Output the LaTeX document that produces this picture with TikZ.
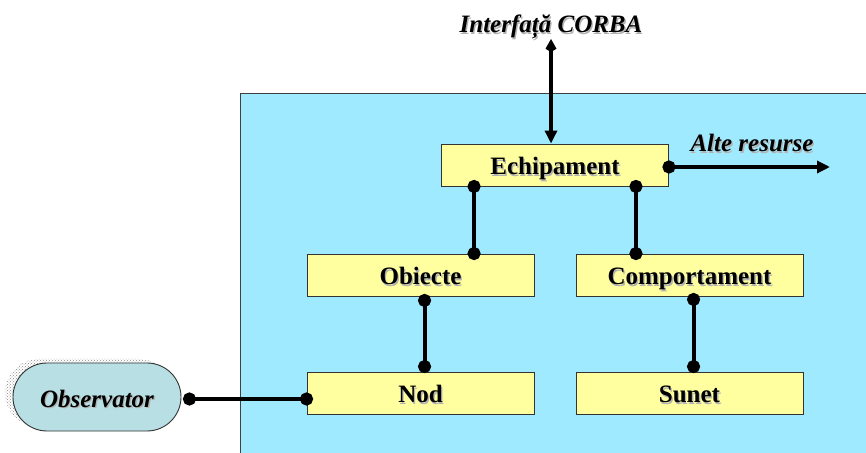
\documentclass[tikz,border=0pt]{standalone}
\usepackage{fontspec}
\setmainfont{Liberation Serif}
\usetikzlibrary{arrows.meta,calc,patterns}
\definecolor{panelblue}{RGB}{160,234,255}
\definecolor{boxyellow}{RGB}{255,255,160}
\definecolor{obsfill}{RGB}{184,224,228}
% text with a soft grey drop shadow
\newcommand\shadowed[1]{\leavevmode\rlap{\kern1.3pt\raisebox{-1.3pt}{\color{black!30}#1}}#1}

\begin{document}
\begin{tikzpicture}[x=1pt,y=1pt,
  labelfont/.style={font=\fontsize{25}{30}\selectfont\bfseries},
  italfont/.style={font=\fontsize{25}{30}\selectfont\bfseries\itshape},
  module/.style={labelfont, draw=black!80, line width=0.9pt, fill=boxyellow,
    minimum width=227pt, minimum height=42pt, inner sep=0pt,
    text height=22pt, text depth=2pt},
  pill/.style={minimum width=168pt, minimum height=68pt, inner sep=0pt,
    rounded corners=34pt, text height=22pt, text depth=2pt},
  link/.style={line width=4pt, {Circle[length=13pt]}-{Circle[length=13pt]},
    shorten <=-6.5pt, shorten >=-6.5pt},
]
\useasboundingbox (0,0) rectangle (866,452);

% application panel (runs past the right and bottom edges)
\draw[fill=panelblue, draw=black!75, line width=1pt] (240,358) rectangle (872,-6);

% modules
\node[module] (ech)  at (555,287)   {\shadowed{Echipament}};
\node[module] (obj)  at (420.5,177) {\shadowed{Obiecte}};
\node[module] (comp) at (689.5,177) {\shadowed{Comportament}};
\node[module] (nod)  at (420.5,59)  {\shadowed{Nod}};
\node[module] (sun)  at (689.5,59)  {\shadowed{Sunet}};

% observer with dotted shadow
\node[pill, pattern=crosshatch dots, pattern color=black!45] at (89,59) {};
\node[pill, draw=black!80, line width=0.9pt, fill=obsfill, italfont]
  (obs) at (97,55) {\shadowed{Observator}};

% external labels
\node[italfont, inner sep=0pt, anchor=base] (corba) at (551,419) {\shadowed{Interfață CORBA}};
\node[italfont, inner sep=0pt, anchor=base] (alte)  at (752,300) {\shadowed{Alte resurse}};
\coordinate (alteend) at (830,285);

% connectors
\draw[line width=4pt, {Kite[length=13pt,width=11pt]}-{Triangle[length=13pt,width=12pt]}]
  ([yshift=-6pt]corba.base) -- (corba.base |- ech.north);
\draw[line width=4pt, {Circle[length=13pt]}-{Triangle[length=13pt,width=12pt]}, shorten <=-6.5pt]
  ([yshift=-2pt]ech.east) -- (alteend);
\draw[link] ([xshift=33pt]ech.south west) coordinate (e1) -- (e1 |- obj.north);
\draw[link] ([xshift=-33pt]ech.south east) coordinate (e2) -- (e2 |- comp.north);
\draw[link] ([xshift=118pt,yshift=-4pt]obj.south west) coordinate (o1) -- ($(o1 |- nod.north)+(0,5pt)$);
\draw[link] ([xshift=118pt,yshift=-3pt]comp.south west) coordinate (c1) -- ($(c1 |- sun.north)+(0,5pt)$);
\draw[link] ([xshift=8pt,yshift=-2pt]obs.east) coordinate (s1) -- (s1 -| nod.west);
\end{tikzpicture}
\end{document}
